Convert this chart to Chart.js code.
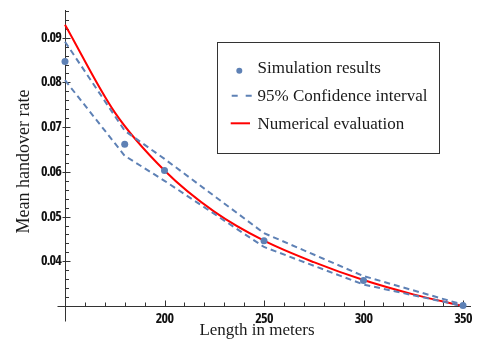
<!DOCTYPE html>
<html>
<head>
<meta charset="utf-8">
<script src="https://cdn.jsdelivr.net/npm/chart.js@4.4.1/dist/chart.umd.min.js"></script>
<style>
html,body{margin:0;padding:0;background:#ffffff;}
#wrap{position:relative;width:478px;height:343px;}
</style>
</head>
<body>
<div id="wrap"><canvas id="c" width="478" height="343"></canvas></div>
<script>
// ---- data ----
const lengths = [150, 180, 200, 250, 300, 350];
const simulation = [0.0847, 0.0662, 0.0603, 0.0446, 0.0357, 0.0301];
const ciUpper = [0.0891, 0.0692, 0.0629, 0.0463, 0.0367, 0.0303];
const ciLower = [0.0805, 0.0636, 0.0580, 0.0432, 0.0348, 0.0300];
const evalLengths = [150, 175, 200, 225, 250, 275, 300, 325, 350];
const evalValues = [0.0929, 0.0733, 0.0603, 0.0511, 0.0446, 0.0398, 0.0358, 0.0326, 0.0300];

const xTickValues = [200, 250, 300, 350];
const yTickValues = [0.04, 0.05, 0.06, 0.07, 0.08, 0.09];
const xMinorTicks = [160, 170, 180, 190, 210, 220, 230, 240, 260, 270, 280, 290, 310, 320, 330, 340];
const yMinorTicks = [0.032, 0.034, 0.036, 0.038, 0.042, 0.044, 0.046, 0.048, 0.052, 0.054, 0.056, 0.058,
                     0.062, 0.064, 0.066, 0.068, 0.072, 0.074, 0.076, 0.078, 0.082, 0.084, 0.086, 0.088,
                     0.092, 0.094, 0.096];

const legendLabels = ['Simulation results', '95% Confidence interval', 'Numerical evaluation'];
const xTitle = 'Length in meters';
const yTitle = 'Mean handover rate';

// ---- styles ----
const BLUE = '#5E81B5';
const RED = '#FF0000';
const AXIS = '#333333';
const SERIF = "'Liberation Serif', 'Times New Roman', serif";

// condensed bold font for tick labels (Open Sans has a condensed width installed)
const tickFont = (function () {
  const c = document.createElement('canvas').getContext('2d');
  c.font = "bold condensed 14px 'Open Sans'";
  const w = c.measureText('0.09').width;
  if (w > 15 && w < 25) return {family: "'Open Sans'", weight: 'bold condensed', size: 14, spacing: '-0.8px'};
  return {family: "'Liberation Sans', Arial, sans-serif", weight: 'bold', size: 12, spacing: '-0.6px'};
})();

const pts = (xs, ys) => xs.map((x, i) => ({x: x, y: ys[i]}));

const axesPlugin = {
  id: 'mathAxes',
  beforeDraw(chart) {
    chart.ctx.letterSpacing = tickFont.spacing;
  },
  beforeDatasetsDraw(chart) {
    const {ctx, chartArea} = chart;
    ctx.letterSpacing = '0px';
    const xs = chart.scales.x, ys = chart.scales.y;
    const x0 = Math.round(xs.getPixelForValue(150)) + 0.5;
    const y0 = Math.round(ys.getPixelForValue(0.03)) + 0.5;
    ctx.save();
    ctx.strokeStyle = AXIS;
    ctx.lineWidth = 1;
    ctx.beginPath();
    ctx.moveTo(x0, chartArea.top);
    ctx.lineTo(x0, y0 + 15);
    ctx.moveTo(x0 - 8, y0);
    ctx.lineTo(chartArea.right + 8, y0);
    xTickValues.forEach(v => {
      const p = Math.round(xs.getPixelForValue(v)) + 0.5;
      ctx.moveTo(p, y0); ctx.lineTo(p, y0 - 6);
    });
    xMinorTicks.forEach(v => {
      const p = Math.round(xs.getPixelForValue(v)) + 0.5;
      ctx.moveTo(p, y0); ctx.lineTo(p, y0 - 4);
    });
    yTickValues.forEach(v => {
      const p = Math.round(ys.getPixelForValue(v)) + 0.5;
      ctx.moveTo(x0 - 3, p); ctx.lineTo(x0 + 5, p);
    });
    yMinorTicks.forEach(v => {
      const p = Math.round(ys.getPixelForValue(v)) + 0.5;
      ctx.moveTo(x0, p); ctx.lineTo(x0 + 3.5, p);
    });
    ctx.stroke();
    ctx.restore();
  },
  afterDraw(chart) {
    const {ctx} = chart;
    ctx.save();
    ctx.letterSpacing = '0px';
    ctx.fillStyle = '#1a1a1a';
    ctx.font = '17px ' + SERIF;
    ctx.textAlign = 'center';
    ctx.textBaseline = 'alphabetic';
    ctx.fillText(xTitle, 257, 335);
    ctx.save();
    ctx.font = '18px ' + SERIF;
    ctx.translate(28.5, 161.5);
    ctx.rotate(-Math.PI / 2);
    ctx.fillText(yTitle, 0, 0);
    ctx.restore();

    ctx.strokeStyle = AXIS;
    ctx.lineWidth = 1;
    ctx.strokeRect(217.5, 42.5, 222, 111);
    ctx.textAlign = 'left';
    const baselines = [73, 101, 128.6];
    legendLabels.forEach((t, i) => ctx.fillText(t, 257.5, baselines[i]));
    ctx.fillStyle = BLUE;
    ctx.beginPath();
    ctx.arc(239.3, 70.7, 3, 0, Math.PI * 2);
    ctx.fill();
    ctx.strokeStyle = BLUE;
    ctx.lineWidth = 2;
    ctx.beginPath();
    ctx.moveTo(231.7, 95.7); ctx.lineTo(237.7, 95.7);
    ctx.moveTo(245.7, 95.7); ctx.lineTo(251.7, 95.7);
    ctx.stroke();
    ctx.strokeStyle = RED;
    ctx.beginPath();
    ctx.moveTo(230.7, 123.3); ctx.lineTo(250, 123.3);
    ctx.stroke();
    ctx.restore();
  }
};

new Chart(document.getElementById('c').getContext('2d'), {
  type: 'line',
  data: {
    datasets: [
      {
        label: legendLabels[0],
        data: pts(lengths, simulation),
        showLine: false,
        pointRadius: 3.5,
        pointBackgroundColor: BLUE,
        pointBorderColor: BLUE,
        pointBorderWidth: 0,
        borderColor: BLUE,
        clip: false
      },
      {
        label: legendLabels[1],
        data: pts(lengths, ciUpper),
        borderColor: BLUE,
        borderWidth: 2,
        borderDash: [6, 4],
        pointRadius: 0,
        tension: 0,
        fill: false,
        clip: false
      },
      {
        label: legendLabels[1] + ' (lower)',
        data: pts(lengths, ciLower),
        borderColor: BLUE,
        borderWidth: 2,
        borderDash: [6, 4],
        pointRadius: 0,
        tension: 0,
        fill: false,
        clip: false
      },
      {
        label: legendLabels[2],
        data: pts(evalLengths, evalValues),
        borderColor: RED,
        borderWidth: 2,
        pointRadius: 0,
        cubicInterpolationMode: 'monotone',
        fill: false,
        clip: false
      }
    ]
  },
  options: {
    responsive: false,
    animation: false,
    events: [],
    layout: {padding: {top: 10, right: 15, left: 0, bottom: 0}},
    plugins: {legend: {display: false}, tooltip: {enabled: false}, title: {display: false}},
    scales: {
      x: {
        type: 'linear',
        min: 150,
        max: 350,
        grid: {display: false, drawTicks: false},
        border: {display: false},
        afterBuildTicks: s => { s.ticks = xTickValues.map(v => ({value: v})); },
        afterFit: s => { s.height = 37; s.paddingLeft = 0; s.paddingRight = 0; },
        ticks: {
          autoSkip: false,
          maxRotation: 0,
          padding: 5,
          color: '#111111',
          font: {family: tickFont.family, size: tickFont.size, weight: tickFont.weight},
          callback: v => String(v)
        }
      },
      y: {
        type: 'linear',
        min: 0.03,
        max: 0.0962,
        grid: {display: false, drawTicks: false},
        border: {display: false},
        afterBuildTicks: s => { s.ticks = yTickValues.map(v => ({value: v})); },
        afterFit: s => { s.width = 65; s.paddingTop = 0; s.paddingBottom = 0; },
        ticks: {
          autoSkip: false,
          padding: 4,
          color: '#111111',
          font: {family: tickFont.family, size: tickFont.size, weight: tickFont.weight},
          callback: v => Number(v).toFixed(2)
        }
      }
    }
  },
  plugins: [axesPlugin]
});
</script>
</body>
</html>
